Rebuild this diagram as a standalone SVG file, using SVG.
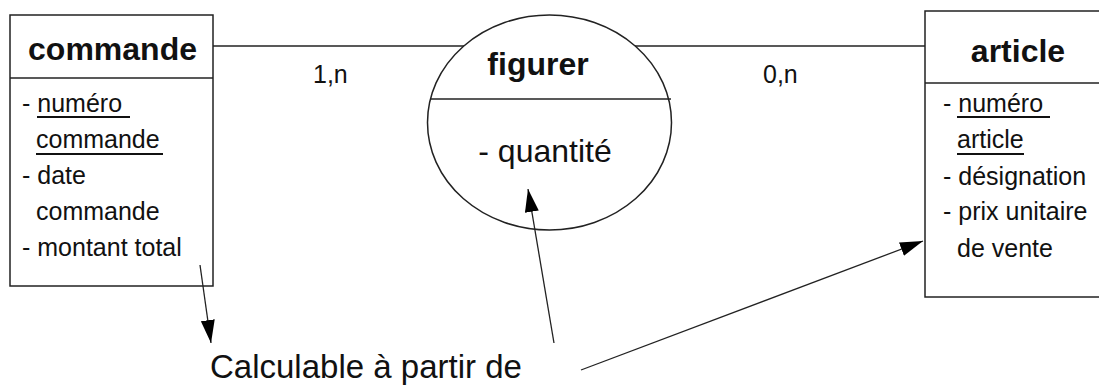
<svg xmlns="http://www.w3.org/2000/svg" width="1099" height="385" viewBox="0 0 1099 385">
<style>
.box{fill:#fff;stroke:#222;stroke-width:1.5}
.sep{stroke:#222;stroke-width:1.3}
.title{font-family:"Liberation Sans",Arial,sans-serif;font-weight:bold;font-size:32px;fill:#111}
.attr{font-family:"Liberation Sans",Arial,sans-serif;font-size:25px;fill:#111}
.big{font-family:"Liberation Sans",Arial,sans-serif;font-size:32px;fill:#111}
.note{font-family:"Liberation Sans",Arial,sans-serif;font-size:33px;fill:#111}
.ul{stroke:#111;stroke-width:2}
.link{stroke:#222;stroke-width:1.3;fill:none}
.arrow{stroke:#222;stroke-width:1.3;fill:none;marker-end:url(#head)}
</style>
<defs>
<marker id="head" markerUnits="userSpaceOnUse" markerWidth="24" markerHeight="16" refX="23" refY="7" orient="auto">
<path d="M0,0 L23,7 L0,14 Z" fill="#000"/>
</marker>
</defs>
<rect width="1099" height="385" fill="#fff"/>
<g id="commande">
<rect class="box" x="10" y="15" width="203" height="271"/>
<line class="sep" x1="10" y1="78" x2="213" y2="78"/>
<text class="title" x="112.5" y="60" text-anchor="middle">commande</text>
<text class="attr" x="22" y="112">- numéro</text>
<line class="ul" x1="37" y1="117" x2="130" y2="117"/>
<text class="attr" x="36" y="148">commande</text>
<line class="ul" x1="36" y1="154" x2="163" y2="154"/>
<text class="attr" x="22" y="184">- date</text>
<text class="attr" x="36" y="220">commande</text>
<text class="attr" x="22" y="256">- montant total</text>
</g>
<g id="figurer">
<ellipse class="box" cx="549.5" cy="122.5" rx="122" ry="107.5"/>
<line class="sep" x1="430" y1="99" x2="671" y2="99"/>
<text class="title" x="538" y="75" text-anchor="middle">figurer</text>
<text class="big" x="545" y="162" text-anchor="middle">- quantité</text>
</g>
<g id="article">
<rect class="box" x="925" y="11" width="180" height="286"/>
<line class="sep" x1="925" y1="83" x2="1099" y2="83"/>
<text class="title" x="1018" y="62" text-anchor="middle">article</text>
<text class="attr" x="943" y="112">- numéro</text>
<line class="ul" x1="957" y1="117" x2="1050" y2="117"/>
<text class="attr" x="957" y="148">article</text>
<line class="ul" x1="957" y1="154" x2="1024" y2="154"/>
<text class="attr" x="943" y="185">- désignation</text>
<text class="attr" x="943" y="220">- prix unitaire</text>
<text class="attr" x="957" y="257">de vente</text>
</g>
<g id="note">
<text class="note" x="210" y="378">Calculable à partir de</text>
</g>
<g id="connectors">
<line class="link" x1="213" y1="46" x2="464" y2="46"/>
<line class="link" x1="635" y1="46" x2="925" y2="46"/>
<text class="attr" x="313" y="83">1,n</text>
<text class="attr" x="763" y="83">0,n</text>
<line class="arrow" x1="200" y1="265" x2="211" y2="343"/>
<line class="arrow" x1="554" y1="343" x2="528" y2="189"/>
<line class="arrow" x1="581" y1="370" x2="923" y2="241"/>
</g>
</svg>
